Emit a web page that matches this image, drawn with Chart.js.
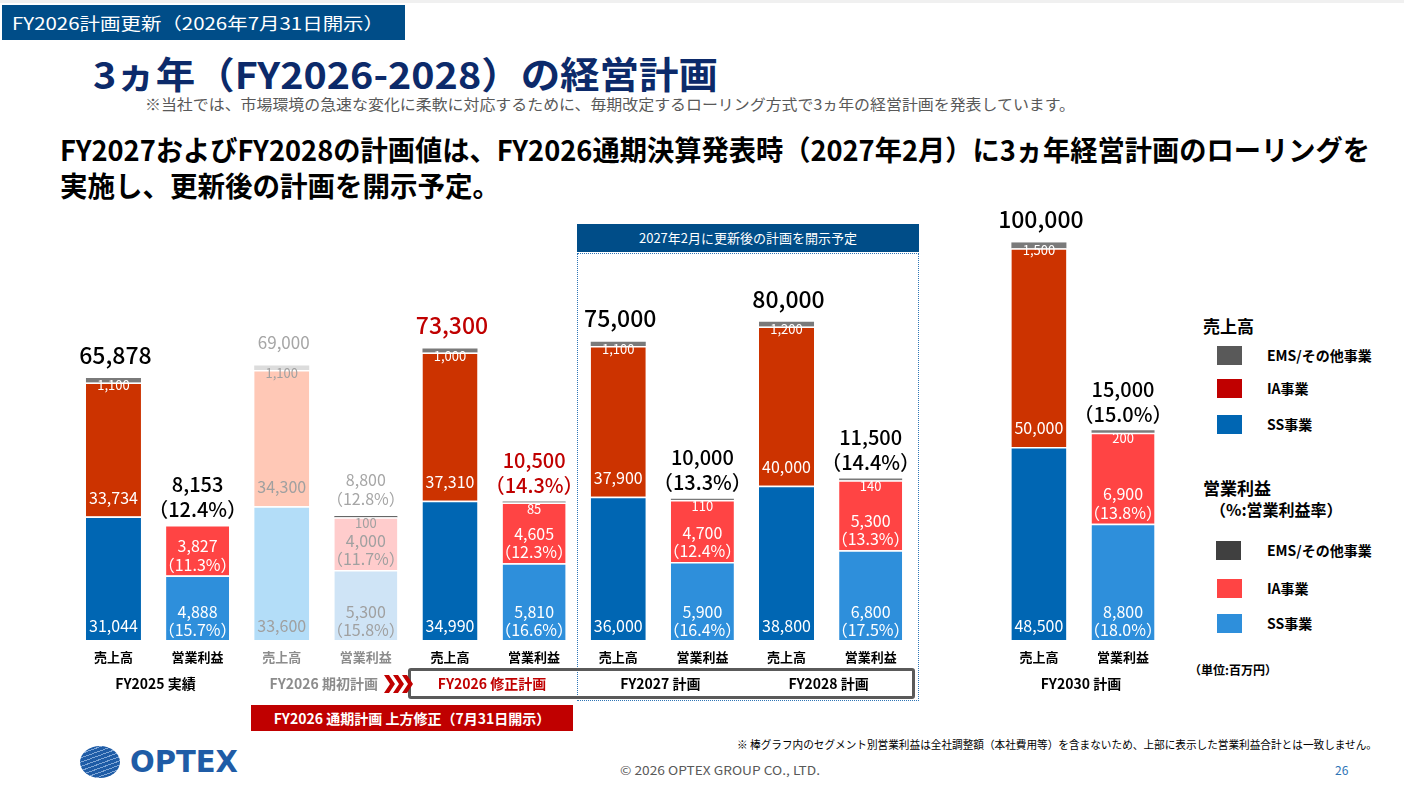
<!DOCTYPE html>
<html lang="ja">
<head>
<meta charset="utf-8">
<script src="https://cdn.jsdelivr.net/npm/chart.js@4.4.1/dist/chart.umd.min.js"></script>
<style>
body{margin:0;width:1404px;height:798px;background:#fff;position:relative;overflow:hidden;
  font-family:"Noto Sans CJK JP","Noto Sans",sans-serif;color:#000}
.abs{position:absolute;white-space:nowrap}
#chart{position:absolute;left:0;top:0}
.sq{position:absolute;width:25px;height:19px}
.lg{position:absolute;font-size:14px;font-weight:bold;white-space:nowrap;line-height:19px}
</style>
</head>
<body>

<div class="abs" style="left:0;top:0;width:1404px;height:3px;background:#f0f0f0"></div>
<div class="abs" style="left:2px;top:5px;width:403px;height:35px;background:#004d88"></div>
<div class="abs" data-w="372" style="left:12px;top:5px;line-height:35px;font-size:17px;color:#fff">FY2026計画更新（2026年7月31日開示）</div>

<div class="abs" data-w="625" style="left:93px;top:50px;font-size:37px;line-height:46px;font-weight:bold;color:#0c2a6a">3ヵ年（FY2026-2028）の経営計画</div>
<div class="abs" data-w="930" style="left:145px;top:94px;font-size:15px;line-height:20px;color:#595959">※当社では、市場環境の急速な変化に柔軟に対応するために、毎期改定するローリング方式で3ヵ年の経営計画を発表しています。</div>
<div class="abs" data-w="1310" style="left:60px;top:131px;font-size:28px;line-height:36px;font-weight:bold">FY2027およびFY2028の計画値は、FY2026通期決算発表時（2027年2月）に3ヵ年経営計画のローリングを</div>
<div class="abs" data-w="440" style="left:60px;top:167px;font-size:28px;line-height:36px;font-weight:bold">実施し、更新後の計画を開示予定。</div>

<div class="abs" style="left:577px;top:224px;width:342px;height:28px;background:#004d88;color:#fff;font-size:13px;line-height:28px;text-align:center">2027年2月に更新後の計画を開示予定</div>
<div class="abs" style="left:577px;top:253px;width:340px;height:446px;border:1px dotted #2e75b6"></div>
<div class="abs" style="left:408px;top:668px;width:507px;height:31px;border:3px solid #5a5a5a;border-radius:3px;box-sizing:border-box"></div>
<svg class="abs" style="left:384px;top:675px" width="30" height="18" viewBox="0 0 30 18">
  <path d="M0 0h5l6 9-6 9h-5l6-9z M9 0h5l6 9-6 9h-5l6-9z M18 0h5l6 9-6 9h-5l6-9z" fill="#c00000"/>
</svg>
<div class="abs" style="left:251px;top:705px;width:322px;height:26px;background:#c00000;color:#fff;font-size:14px;font-weight:bold;line-height:26px;text-align:center">FY2026 通期計画 上方修正（7月31日開示）</div>

<div class="abs" style="left:1203px;top:313px;font-size:17px;font-weight:bold">売上高</div>
<div class="sq" style="left:1217px;top:346px;background:#595959"></div><div class="lg" style="left:1267px;top:346px">EMS/その他事業</div>
<div class="sq" style="left:1217px;top:379px;background:#c00000"></div><div class="lg" style="left:1267px;top:379px">IA事業</div>
<div class="sq" style="left:1217px;top:415px;background:#0066b3"></div><div class="lg" style="left:1267px;top:415px">SS事業</div>
<div class="abs" style="left:1203px;top:475px;font-size:17px;font-weight:bold">営業利益</div>
<div class="abs" style="left:1210px;top:497px;font-size:16px;font-weight:bold">（%:営業利益率）</div>
<div class="sq" style="left:1216px;top:541px;background:#404040"></div><div class="lg" style="left:1267px;top:541px">EMS/その他事業</div>
<div class="sq" style="left:1217px;top:579px;background:#ff4444"></div><div class="lg" style="left:1267px;top:579px">IA事業</div>
<div class="sq" style="left:1217px;top:614px;background:#2e8fdb"></div><div class="lg" style="left:1267px;top:614px">SS事業</div>
<div class="abs" style="left:1189px;top:661px;font-size:12px;font-weight:bold">（単位:百万円）</div>

<div class="abs" style="left:80px;top:746px;width:40px;height:32px;border-radius:50%;background:repeating-linear-gradient(160deg,#1f5ca6 0 3px,#7fa6d6 3px 4px)"></div>
<div class="abs" data-w="108" style="left:130px;top:743px;font-family:'DejaVu Sans';font-weight:bold;font-size:30px;line-height:38px;color:#1f5ca6">OPTEX</div>

<div class="abs" data-w="640" style="left:737px;top:736px;font-size:11px;line-height:16px">※ 棒グラフ内のセグメント別営業利益は全社調整額（本社費用等）を含まないため、上部に表示した営業利益合計とは一致しません。</div>
<div class="abs" data-w="200" style="left:620px;top:762px;font-size:12px;line-height:16px;color:#595959">© 2026 OPTEX GROUP CO., LTD.</div>
<div class="abs" style="left:1335px;top:762px;font-size:12px;line-height:16px;color:#2e75b6">26</div>

<canvas id="chart" width="1404" height="798"></canvas>

<script>
// 13 slots: sales / profit pairs, one empty slot before FY2030
const barLabels = ["売上高","営業利益","売上高","営業利益","売上高","営業利益",
    "売上高","営業利益","売上高","営業利益","","売上高","営業利益"];

const groupLabels = ["FY2025 実績","FY2026 期初計画","FY2026 修正計画",
    "FY2027 計画","FY2028 計画","FY2030 計画"];
const groupSlots = [0,2,4,6,8,11];

// 売上高 (百万円)
const salesSS  = [31044,null,33600,null,34990,null,36000,null,38800,null,null,48500,null];
const salesIA  = [33734,null,34300,null,37310,null,37900,null,40000,null,null,50000,null];
const salesEMS = [1100,null,1100,null,1000,null,1100,null,1200,null,null,1500,null];
const salesTotal = [65878,null,69000,null,73300,null,75000,null,80000,null,null,100000,null];

// 営業利益 (百万円)
const profitSS  = [null,4888,null,5300,null,5810,null,5900,null,6800,null,null,8800];
const profitIA  = [null,3827,null,4000,null,4605,null,4700,null,5300,null,null,6900];
const profitEMS = [null,null,null,100,null,85,null,110,null,140,null,null,200];
const profitTotal = [null,8153,null,8800,null,10500,null,10000,null,11500,null,null,15000];

// 営業利益率 (%)
const marginSS  = [null,15.7,null,15.8,null,16.6,null,16.4,null,17.5,null,null,18.0];
const marginIA  = [null,11.3,null,11.7,null,12.3,null,12.4,null,13.3,null,null,13.8];
const marginTotal = [null,12.4,null,12.8,null,14.3,null,13.3,null,14.4,null,null,15.0];

const fadedSlots = [2,3];     // FY2026 期初計画
const revisedSlots = [4,5];   // FY2026 修正計画

const FONT = "'Noto Sans CJK JP','Noto Sans',sans-serif";

function pick(strong, pale){
    return c => fadedSlots.includes(c.dataIndex) ? pale : strong;
}

function fmt(v){
    return v.toLocaleString("en-US");
}

function pct(v){
    return "（" + v.toFixed(1) + "%）";
}

function makeSet(data, axis, strong, pale, edge){
    return {
        data: data,
        yAxisID: axis,
        stack: "s",
        backgroundColor: pick(strong, pale),
        borderColor: "#ffffff",
        borderWidth: edge ? {top:1.5,bottom:0,left:0,right:0} : 0,
        borderSkipped: false,
        categoryPercentage: 1,
        barPercentage: axis === "y" ? 0.654 : 0.749
    };
}

const labelPlugin = {
    id: "labels",
    afterDatasetsDraw(chart){
        const ctx = chart.ctx;
        const xs = chart.scales.x;
        const m = i => chart.getDatasetMeta(i).data;
        ctx.save();
        ctx.textAlign = "center";
        ctx.textBaseline = "middle";

        function txt(s, x, y, size, color, weight){
            ctx.font = (weight || "normal") + " " + size + "px " + FONT;
            ctx.fillStyle = color;
            ctx.fillText(s, x, y);
        }

        for(let i = 0; i < barLabels.length; i++){
            const faded = fadedSlots.includes(i);
            const revised = revisedSlots.includes(i);
            const inner = faded ? "#a0a0a0" : "#ffffff";
            const head = faded ? "#a6a6a6" : (revised ? "#c00000" : "#000000");

            if(salesSS[i] !== null){
                const ss = m(0)[i], ia = m(1)[i], ems = m(2)[i];
                txt(fmt(salesSS[i]), ss.x, ss.base - 14, 16, inner);
                txt(fmt(salesIA[i]), ia.x, ia.base - 19, 16, inner);
                txt(fmt(salesEMS[i]), ia.x, ems.y + 7.5, 13, inner);
                txt(fmt(salesTotal[i]), ems.x + 2, ems.y - 23,
                    faded ? 17 : 23, head, faded ? "normal" : "500");
            }

            if(profitSS[i] !== null){
                const ss = m(3)[i], ia = m(4)[i], ems = m(5)[i];
                txt(fmt(profitSS[i]), ss.x, ss.base - 28, 16, inner);
                txt(pct(marginSS[i]), ss.x, ss.base - 10, 16, inner);
                txt(fmt(profitIA[i]), ia.x, ia.base - 29.5, 16, inner);
                txt(pct(marginIA[i]), ia.x, ia.base - 11, 16, inner);
                let top = ia.y;
                if(profitEMS[i] !== null){
                    top = ems.y;
                    txt(fmt(profitEMS[i]), ia.x, ems.y + 7.5, 13, inner);
                }
                if(faded){
                    txt(fmt(profitTotal[i]), ia.x, top - 36, 16, head);
                    txt(pct(marginTotal[i]), ia.x, top - 17, 16, head);
                }else{
                    txt(fmt(profitTotal[i]), ia.x, top - 41, 20, head, "500");
                    txt(pct(marginTotal[i]), ia.x, top - 16, 20, head, "500");
                }
            }

            if(barLabels[i] !== ""){
                txt(barLabels[i], xs.getPixelForValue(i), 657, 13,
                    faded ? "#8c8c8c" : "#000000", "bold");
            }
        }

        groupLabels.forEach((g, k) => {
            const s = groupSlots[k];
            const x = (xs.getPixelForValue(s) + xs.getPixelForValue(s + 1)) / 2;
            let color = "#000000";
            if(fadedSlots.includes(s)) color = "#8c8c8c";
            if(revisedSlots.includes(s)) color = "#c00000";
            txt(g, x, 684, 14, color, "bold");
        });

        ctx.restore();
    }
};

new Chart(
    document.getElementById("chart"),
    {
        type: "bar",
        data: {
            labels: barLabels,
            datasets: [
                makeSet(salesSS, "y", "#0066b3", "#b3ddf8", true),
                makeSet(salesIA, "y", "#cc3300", "#ffc8b6", true),
                makeSet(salesEMS, "y", "#7a7a7a", "#dcdcdc", false),
                makeSet(profitSS, "y2", "#2e8fdb", "#cfe4f6", true),
                makeSet(profitIA, "y2", "#ff4444", "#ffcccc", true),
                makeSet(profitEMS, "y2", "#7a7a7a", "#666666", false)
            ]
        },
        options: {
            responsive: false,
            animation: false,
            layout: {
                padding: {left:71.4, right:238.9, top:242.3, bottom:158}
            },
            plugins: {
                legend: {display:false},
                tooltip: {enabled:false}
            },
            scales: {
                x: {stacked:true, display:false},
                y: {stacked:true, display:false, min:0, max:100000},
                y2: {stacked:true, display:false, min:0, max:30130}
            }
        },
        plugins: [labelPlugin]
    }
);

// squeeze slide texts to the widths they take on the original
document.querySelectorAll("[data-w]").forEach(el => {
    const w = +el.dataset.w;
    const a = el.getBoundingClientRect().width;
    el.style.transformOrigin = "left center";
    el.style.transform = "scaleX(" + (w / a) + ")";
});
</script>
</body>
</html>
